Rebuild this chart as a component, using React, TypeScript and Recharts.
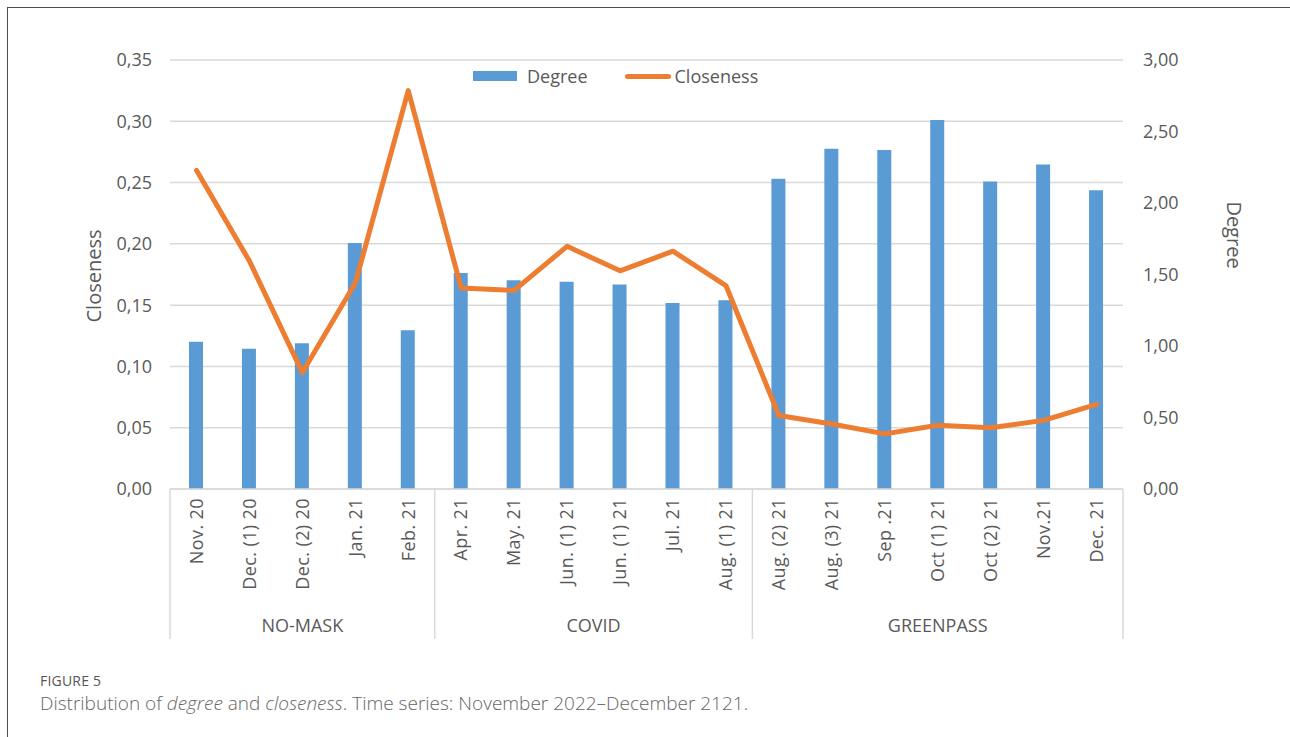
import { ComposedChart, Bar, Line, XAxis, YAxis, CartesianGrid, Legend } from "recharts";

const categories = [
  "Nov. 20", "Dec. (1) 20", "Dec. (2) 20", "Jan. 21", "Feb. 21",
  "Apr. 21", "May. 21", "Jun. (1) 21", "Jun. (1) 21", "Jul. 21", "Aug. (1) 21",
  "Aug. (2) 21", "Aug. (3) 21", "Sep .21", "Oct (1) 21", "Oct (2) 21", "Nov.21", "Dec. 21",
];
const degree = [1.03, 0.98, 1.02, 1.72, 1.11, 1.51, 1.46, 1.45, 1.43, 1.30, 1.32, 2.17, 2.38, 2.37, 2.58, 2.15, 2.27, 2.09];
const closeness = [0.26, 0.186, 0.095, 0.168, 0.325, 0.164, 0.162, 0.198, 0.178, 0.194, 0.166, 0.06, 0.053, 0.045, 0.052, 0.05, 0.056, 0.069];

const groupNames = ["NO-MASK", "COVID", "GREENPASS"];
const groupSizes = [5, 6, 7];

const closenessTicks = [0, 0.05, 0.1, 0.15, 0.2, 0.25, 0.3, 0.35];
const degreeTicks = [0, 0.5, 1, 1.5, 2, 2.5, 3];

const data = categories.map((c, i) => ({ id: String(i), label: c, degree: degree[i], closeness: closeness[i] }));

const FONT = "'Open Sans', sans-serif";
const TEXT = "#595959";
const GRID = "#d9d9d9";

const fmt = (v: number) => v.toFixed(2).replace(".", ",");

// where each group starts
const groupStarts = groupSizes.map((_, g) => groupSizes.slice(0, g).reduce((a, b) => a + b, 0));

function CategoryTick(props: any) {
  const { x, y, payload } = props;
  const idx = payload.index;
  const half = payload.offset ?? 26.5;
  const g = groupStarts.indexOf(idx);
  return (
    <g>
      <text
        x={x}
        y={y + 9}
        dy="0.35em"
        transform={`rotate(-90, ${x}, ${y + 9})`}
        textAnchor="end"
        fill={TEXT}
        fontSize={18}
        letterSpacing={0.4}
        fontFamily={FONT}
      >
        {categories[idx]}
      </text>
      {g >= 0 && (
        <>
          <line x1={x - half} x2={x - half} y1={y} y2={y + 150} stroke={GRID} strokeWidth={1.5} />
          <text
            x={x - half + groupSizes[g] * half}
            y={y + 143}
            textAnchor="middle"
            fill={TEXT}
            fontSize={18}
            fontFamily={FONT}
          >
            {groupNames[g]}
          </text>
        </>
      )}
      {idx === categories.length - 1 && (
        <line x1={x + half} x2={x + half} y1={y} y2={y + 150} stroke={GRID} strokeWidth={1.5} />
      )}
    </g>
  );
}

function ChartLegend() {
  return (
    <div style={{ display: "flex", alignItems: "center", fontFamily: FONT, fontSize: 18, color: TEXT, lineHeight: "20px" }}>
      <span style={{ display: "inline-block", width: 44, height: 10, background: "#5b9bd5" }} />
      <span style={{ marginLeft: 10 }}>Degree</span>
      <span style={{ display: "inline-block", width: 46, height: 5, background: "#ed7d31", marginLeft: 37, borderRadius: 3 }} />
      <span style={{ marginLeft: 4 }}>Closeness</span>
    </div>
  );
}

export default function App() {
  return (
    <div style={{ position: "absolute", left: 0, top: 0, width: 1290, height: 737, background: "#fff", overflow: "hidden" }}>
      <div style={{ position: "absolute", left: 7, top: 7, right: 0, bottom: 0, borderTop: "1px solid #4d4d4d", borderLeft: "1px solid #4d4d4d" }} />
      <ComposedChart
        width={1290}
        height={737}
        data={data}
        margin={{ top: 60, right: 47, bottom: 98, left: 90 }}
        style={{ position: "absolute", left: 0, top: 0 }}
      >
        <CartesianGrid yAxisId="left" vertical={false} stroke={GRID} strokeWidth={1.5} />
        <XAxis
          dataKey="id"
          interval={0}
          height={150}
          tickSize={0}
          tickMargin={0}
          tickLine={false}
          axisLine={{ stroke: GRID, strokeWidth: 1.5 }}
          tick={<CategoryTick />}
        />
        <YAxis
          yAxisId="left"
          orientation="left"
          width={80}
          domain={[0, 0.35]}
          ticks={closenessTicks}
          tickFormatter={fmt}
          axisLine={false}
          tickLine={false}
          tickSize={0}
          tickMargin={18}
          tick={{ fill: TEXT, fontSize: 18, fontFamily: FONT }}
          label={({ viewBox }: any) => (
            <text
              x={viewBox.x + 4}
              y={276}
              transform={`rotate(-90, ${viewBox.x + 4}, 276)`}
              textAnchor="middle"
              dy="0.35em"
              fill={TEXT}
              fontSize={20}
              fontFamily={FONT}
            >
              Closeness
            </text>
          )}
        />
        <YAxis
          yAxisId="right"
          orientation="right"
          width={120}
          domain={[0, 3]}
          ticks={degreeTicks}
          tickFormatter={fmt}
          axisLine={false}
          tickLine={false}
          tickSize={0}
          tickMargin={20}
          tick={{ fill: TEXT, fontSize: 18, fontFamily: FONT }}
          label={({ viewBox }: any) => (
            <text
              x={viewBox.x + 111}
              y={235}
              transform={`rotate(90, ${viewBox.x + 111}, 235)`}
              textAnchor="middle"
              dy="0.35em"
              fill={TEXT}
              fontSize={20}
              fontFamily={FONT}
            >
              Degree
            </text>
          )}
        />
        <Legend
          verticalAlign="middle"
          align="center"
          layout="horizontal"
          content={() => <ChartLegend />}
          wrapperStyle={{ left: 473, top: 66, width: 320, height: 20 }}
        />
        <Bar yAxisId="right" dataKey="degree" name="Degree" fill="#5b9bd5" barSize={14} isAnimationActive={false} />
        <Line
          yAxisId="left"
          type="linear"
          dataKey="closeness"
          name="Closeness"
          stroke="#ed7d31"
          strokeWidth={5}
          strokeLinejoin="round"
          strokeLinecap="round"
          dot={false}
          activeDot={false}
          isAnimationActive={false}
        />
      </ComposedChart>
      <div style={{ position: "absolute", left: 40, top: 673, fontFamily: FONT, fontSize: 14, lineHeight: "16px", color: "#555", fontWeight: 500, letterSpacing: 0.2 }}>
        FIGURE 5
      </div>
      <div style={{ position: "absolute", left: 40, top: 691, fontFamily: FONT, fontSize: 19, lineHeight: "24px", color: "#666", fontWeight: 300 }}>
        Distribution of <i>degree</i> and <i>closeness</i>. Time series: November 2022–December 2121.
      </div>
    </div>
  );
}
